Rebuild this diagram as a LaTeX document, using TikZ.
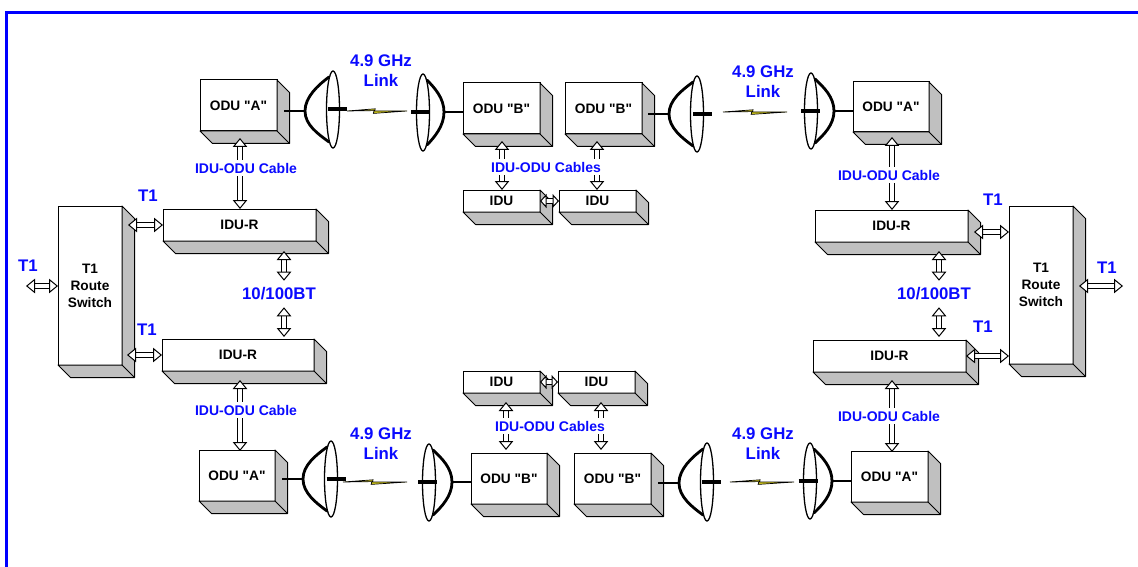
\documentclass[tikz,border=0pt]{standalone}
\usepackage{fontspec}
\setmainfont{Liberation Sans}
\newfontfamily\plainsans{Liberation Sans}
\usetikzlibrary{arrows.meta,calc,shapes.geometric}
\definecolor{linkblue}{RGB}{10,10,255}
\definecolor{shade}{RGB}{192,192,192}
\newcommand{\qq}{{\plainsans\bfseries\symbol{34}}}
\tikzset{
  facebox/.style={draw=black,fill=white,line width=1pt,anchor=north west,inner sep=0pt,outer sep=0pt,align=center,
    font=\fontsize{13.7}{17}\selectfont\bfseries},
  sideface/.style={draw=black,fill=shade,line width=1pt,line join=round},
  blockarrow/.style={double,double distance=4.4pt,line width=1pt,
    {Triangle[fill=white,length=9pt,width=14.5pt,line width=1pt]}-{Triangle[fill=white,length=9pt,width=14.5pt,line width=1pt]}},
  shortarrow/.style={double,double distance=4.4pt,line width=1pt,
    {Triangle[fill=white,length=6.5pt,width=14pt,line width=1pt]}-{Triangle[fill=white,length=6.5pt,width=14pt,line width=1pt]}},
  cablearrow/.style={blockarrow},
  bluelabel/.style={text=linkblue,inner sep=0pt,outer sep=0pt,align=center,font=\fontsize{16.8}{20}\selectfont\bfseries},
  cablelabel/.style={text=linkblue,fill=white,inner xsep=1pt,inner ysep=3pt,outer sep=0pt,font=\fontsize{14}{16}\selectfont\bfseries},
  dishrim/.style={ellipse,draw=black,line width=1.3pt,inner sep=0pt,outer sep=0pt,minimum width=13pt},
  dishbody/.style={draw=black,line width=2.8pt,line cap=round},
  dishbar/.style={draw=black,line width=3.2pt},
  stem/.style={draw=black,line width=1.4pt},
  boltshape/.style={draw=black,fill=yellow!85!black,line width=.7pt,line join=miter},
  frameline/.style={draw=blue,line width=3.2pt,line join=miter}
}
% name, x, y, w, h, text
\newcommand{\solidbox}[6]{%
  \node[facebox,minimum width=#4pt,minimum height=#5pt] (#1) at (#2,#3) {#6};
  \draw[sideface] (#1.north east) -- ++(12.5,12.5) -- ++(0,#5) -- ++(-#4,0) -- (#1.south west) -- (#1.south east) -- cycle;
  \draw[sideface] (#1.south east) -- ++(12.5,12.5);
}
% name, cx, top, bottom, apex x, apex y, dir (curve start offset), bar x1, bar y
\newcommand{\parabolicdish}[9]{%
  \node[dishrim,minimum height={#4pt-#3pt}] (#1) at (#2,{(#3+#4)/2}) {};
  \coordinate (#1-apex) at (#5,#6);
  \draw[dishbody] ({#2+#7*4},{#3+6}) .. controls ({(#2+#7*4)*0.55+#5*0.45},{#3+14}) and (#5,{#6-14}) .. (#1-apex)
     .. controls (#5,{#6+14}) and ({(#2+#7*4)*0.55+#5*0.45},{#4-14}) .. ({#2+#7*4},{#4-6});
  \draw[dishbar] (#8,#9) -- ++(19,0);
}
% start coordinate, end coordinate
\newcommand{\linkbolt}[2]{%
  \draw[boltshape] (#1) -- ($(#1)!.47!(#2)+(0,-2.2)$) -- ($(#1)!.46!(#2)+(0,0)$) -- (#2)
     -- ($(#1)!.44!(#2)+(0,2.4)$) -- ($(#1)!.45!(#2)+(0,-.4)$) -- cycle;
}
\begin{document}
\begin{tikzpicture}[x=1pt,y=-1pt]
\useasboundingbox (0,0) rectangle (1138,567);
\draw[frameline] (6.5,567) -- (6.5,12.5) -- (1138,12.5);

% --- boxes
\solidbox{swL}{58}{206}{64}{159}{T1\\Route\\Switch}
\solidbox{swR}{1009}{206}{64}{158}{T1\\Route\\Switch}
\solidbox{irTL}{163}{209}{153}{32}{IDU-R}
\solidbox{irBL}{162}{339}{152}{32}{IDU-R}
\solidbox{irTR}{815}{210}{153}{32}{IDU-R}
\solidbox{irBR}{813}{340}{153}{32}{IDU-R}
\solidbox{oaTL}{200}{80}{77}{51}{ODU \qq A\qq}
\solidbox{obT1}{463}{83}{77}{51}{ODU \qq B\qq}
\solidbox{obT2}{565}{83}{77}{51}{ODU \qq B\qq}
\solidbox{oaTR}{853}{82}{76}{50}{ODU \qq A\qq}
\solidbox{oaBL}{199}{450}{76}{51}{ODU \qq A\qq}
\solidbox{obB1}{471}{453}{76}{51}{ODU \qq B\qq}
\solidbox{obB2}{574}{453}{77}{51}{ODU \qq B\qq}
\solidbox{oaBR}{851}{451}{77}{51}{ODU \qq A\qq}
\solidbox{idT1}{463}{190}{77}{22}{IDU}
\solidbox{idT2}{559}{190}{77}{22}{IDU}
\solidbox{idB1}{463}{371}{77}{22}{IDU}
\solidbox{idB2}{558}{371}{77}{22}{IDU}

% --- dishes
\parabolicdish{dTL1}{333}{71}{148}{305}{111}{-1}{328}{109}
\parabolicdish{dTL2}{423}{74}{151}{444}{112}{1}{411}{112}
\parabolicdish{dTR1}{697}{76}{152}{669}{114}{-1}{693}{114}
\parabolicdish{dTR2}{811}{73}{149}{834}{111}{1}{801}{111}
\parabolicdish{dBL1}{331}{441}{517}{303}{479}{-1}{326.5}{479}
\parabolicdish{dBL2}{429}{444}{521}{452}{482}{1}{418}{482}
\parabolicdish{dBR1}{707}{443}{521}{679}{483}{-1}{702}{482}
\parabolicdish{dBR2}{810}{443}{519}{832}{481}{1}{798.5}{481}

% --- stems (odu to dish)
\draw[stem] ([xshift=7pt]dTL1-apex -| oaTL.east) -- (dTL1-apex);
\draw[stem] (dTL2-apex -| obT1.west) -- (dTL2-apex);
\draw[stem] ([xshift=6pt]dTR1-apex -| obT2.east) -- (dTR1-apex);
\draw[stem] (dTR2-apex -| oaTR.west) -- (dTR2-apex);
\draw[stem] ([xshift=7pt]dBL1-apex -| oaBL.east) -- (dBL1-apex);
\draw[stem] (dBL2-apex -| obB1.west) -- (dBL2-apex);
\draw[stem] ([xshift=7pt]dBR1-apex -| obB2.east) -- (dBR1-apex);
\draw[stem] (dBR2-apex -| oaBR.west) -- (dBR2-apex);

% --- radio links
\coordinate (lTLa) at (347,111); \coordinate (lTLb) at (407,111);
\coordinate (lTRa) at (723,112); \coordinate (lTRb) at (787,112);
\coordinate (lBLa) at (343,482); \coordinate (lBLb) at (407,482);
\coordinate (lBRa) at (730,482); \coordinate (lBRb) at (794,482);
\linkbolt{lTLa}{lTLb}
\linkbolt{lTRa}{lTRb}
\linkbolt{lBLa}{lBLb}
\linkbolt{lBRa}{lBRb}

% --- long cables with a label across them
\draw[cablearrow] ([shift={(40,7)}]oaTL.south west) -- ([shift={(77,0)}]irTL.north west);
\draw[cablearrow] ([shift={(39,5)}]oaTR.south west) -- ([shift={(77,0)}]irTR.north west);
\draw[cablearrow] ([shift={(78,9)}]irBL.south west) -- ([shift={(41,1)}]oaBL.north west);
\draw[cablearrow] ([shift={(79,8)}]irBR.south west) -- ([shift={(41,1)}]oaBR.north west);
\draw[cablearrow] ([shift={(39,7)}]obT1.south west) -- ([shift={(39,0)}]idT1.north west);
\draw[cablearrow] ([shift={(32,7)}]obT2.south west) -- ([shift={(38,0)}]idT2.north west);
\draw[cablearrow] ([shift={(43,9)}]idB1.south west) -- ([shift={(35,-3)}]obB1.north west);
\draw[cablearrow] ([shift={(43,9)}]idB2.south west) -- ([shift={(27,-3)}]obB2.north west);

\node[cablelabel] (cTL) at (246,168) {IDU-ODU Cable};
\node[cablelabel] (cTR) at (889,175) {IDU-ODU Cable};
\node[cablelabel] (cBL) at (246,410) {IDU-ODU Cable};
\node[cablelabel] (cBR) at (889,416) {IDU-ODU Cable};
\node[cablelabel] (cT) at (546,167) {IDU-ODU Cables};
\node[cablelabel] (cB) at (550,426) {IDU-ODU Cables};

% --- idu-idu links
\draw[shortarrow] (idT1.east) -- (idT2.west);
\draw[shortarrow] (idB1.east) -- (idB2.west);

% --- 10/100BT
\node[bluelabel] (btL) at (279,294) {10/100BT};
\node[bluelabel] (btR) at (934,294) {10/100BT};
\draw[blockarrow] ([shift={(121,10)}]irTL.south west) -- ([shift={(5,-7)}]btL.north);
\draw[blockarrow] ([shift={(5,7)}]btL.south) -- ([shift={(122,-2)}]irBL.north west);
\draw[blockarrow] ([shift={(124,9)}]irTR.south west) -- ([shift={(5,-7)}]btR.north);
\draw[blockarrow] ([shift={(5,7)}]btR.south) -- ([shift={(126,-3)}]irBR.north west);

% --- T1 arrows
\coordinate (t1L) at (26,286);
\coordinate (t1R) at (1123,286);
\draw[blockarrow] (t1L) -- (t1L -| swL.west);
\draw[blockarrow] ([xshift=6pt]t1R -| swR.east) -- (t1R);
\draw[blockarrow] ([shift={(6,19)}]swL.north east) -- (irTL.west);
\draw[blockarrow] ([shift={(5,149)}]swL.north east) -- (irBL.west);
\draw[blockarrow] ([shift={(6,22)}]irTR.north east) coordinate (irTRout) -- (irTRout -| swR.west);
\draw[blockarrow] (irBR.east) -- (irBR.east -| swR.west);

% --- blue labels
\node[bluelabel] (tA) at (148,196) {T1};
\node[bluelabel] (tB) at (28,266) {T1};
\node[bluelabel] (tC) at (147,330) {T1};
\node[bluelabel] (tD) at (993,200) {T1};
\node[bluelabel] (tE) at (1107,268) {T1};
\node[bluelabel] (tF) at (983,327) {T1};
\node[bluelabel] (gA) at (381,71) {4.9 GHz\\Link};
\node[bluelabel] (gB) at (763,82) {4.9 GHz\\Link};
\node[bluelabel] (gC) at (381,443.5) {4.9 GHz\\Link};
\node[bluelabel] (gD) at (763,443.5) {4.9 GHz\\Link};
\end{tikzpicture}
\end{document}
